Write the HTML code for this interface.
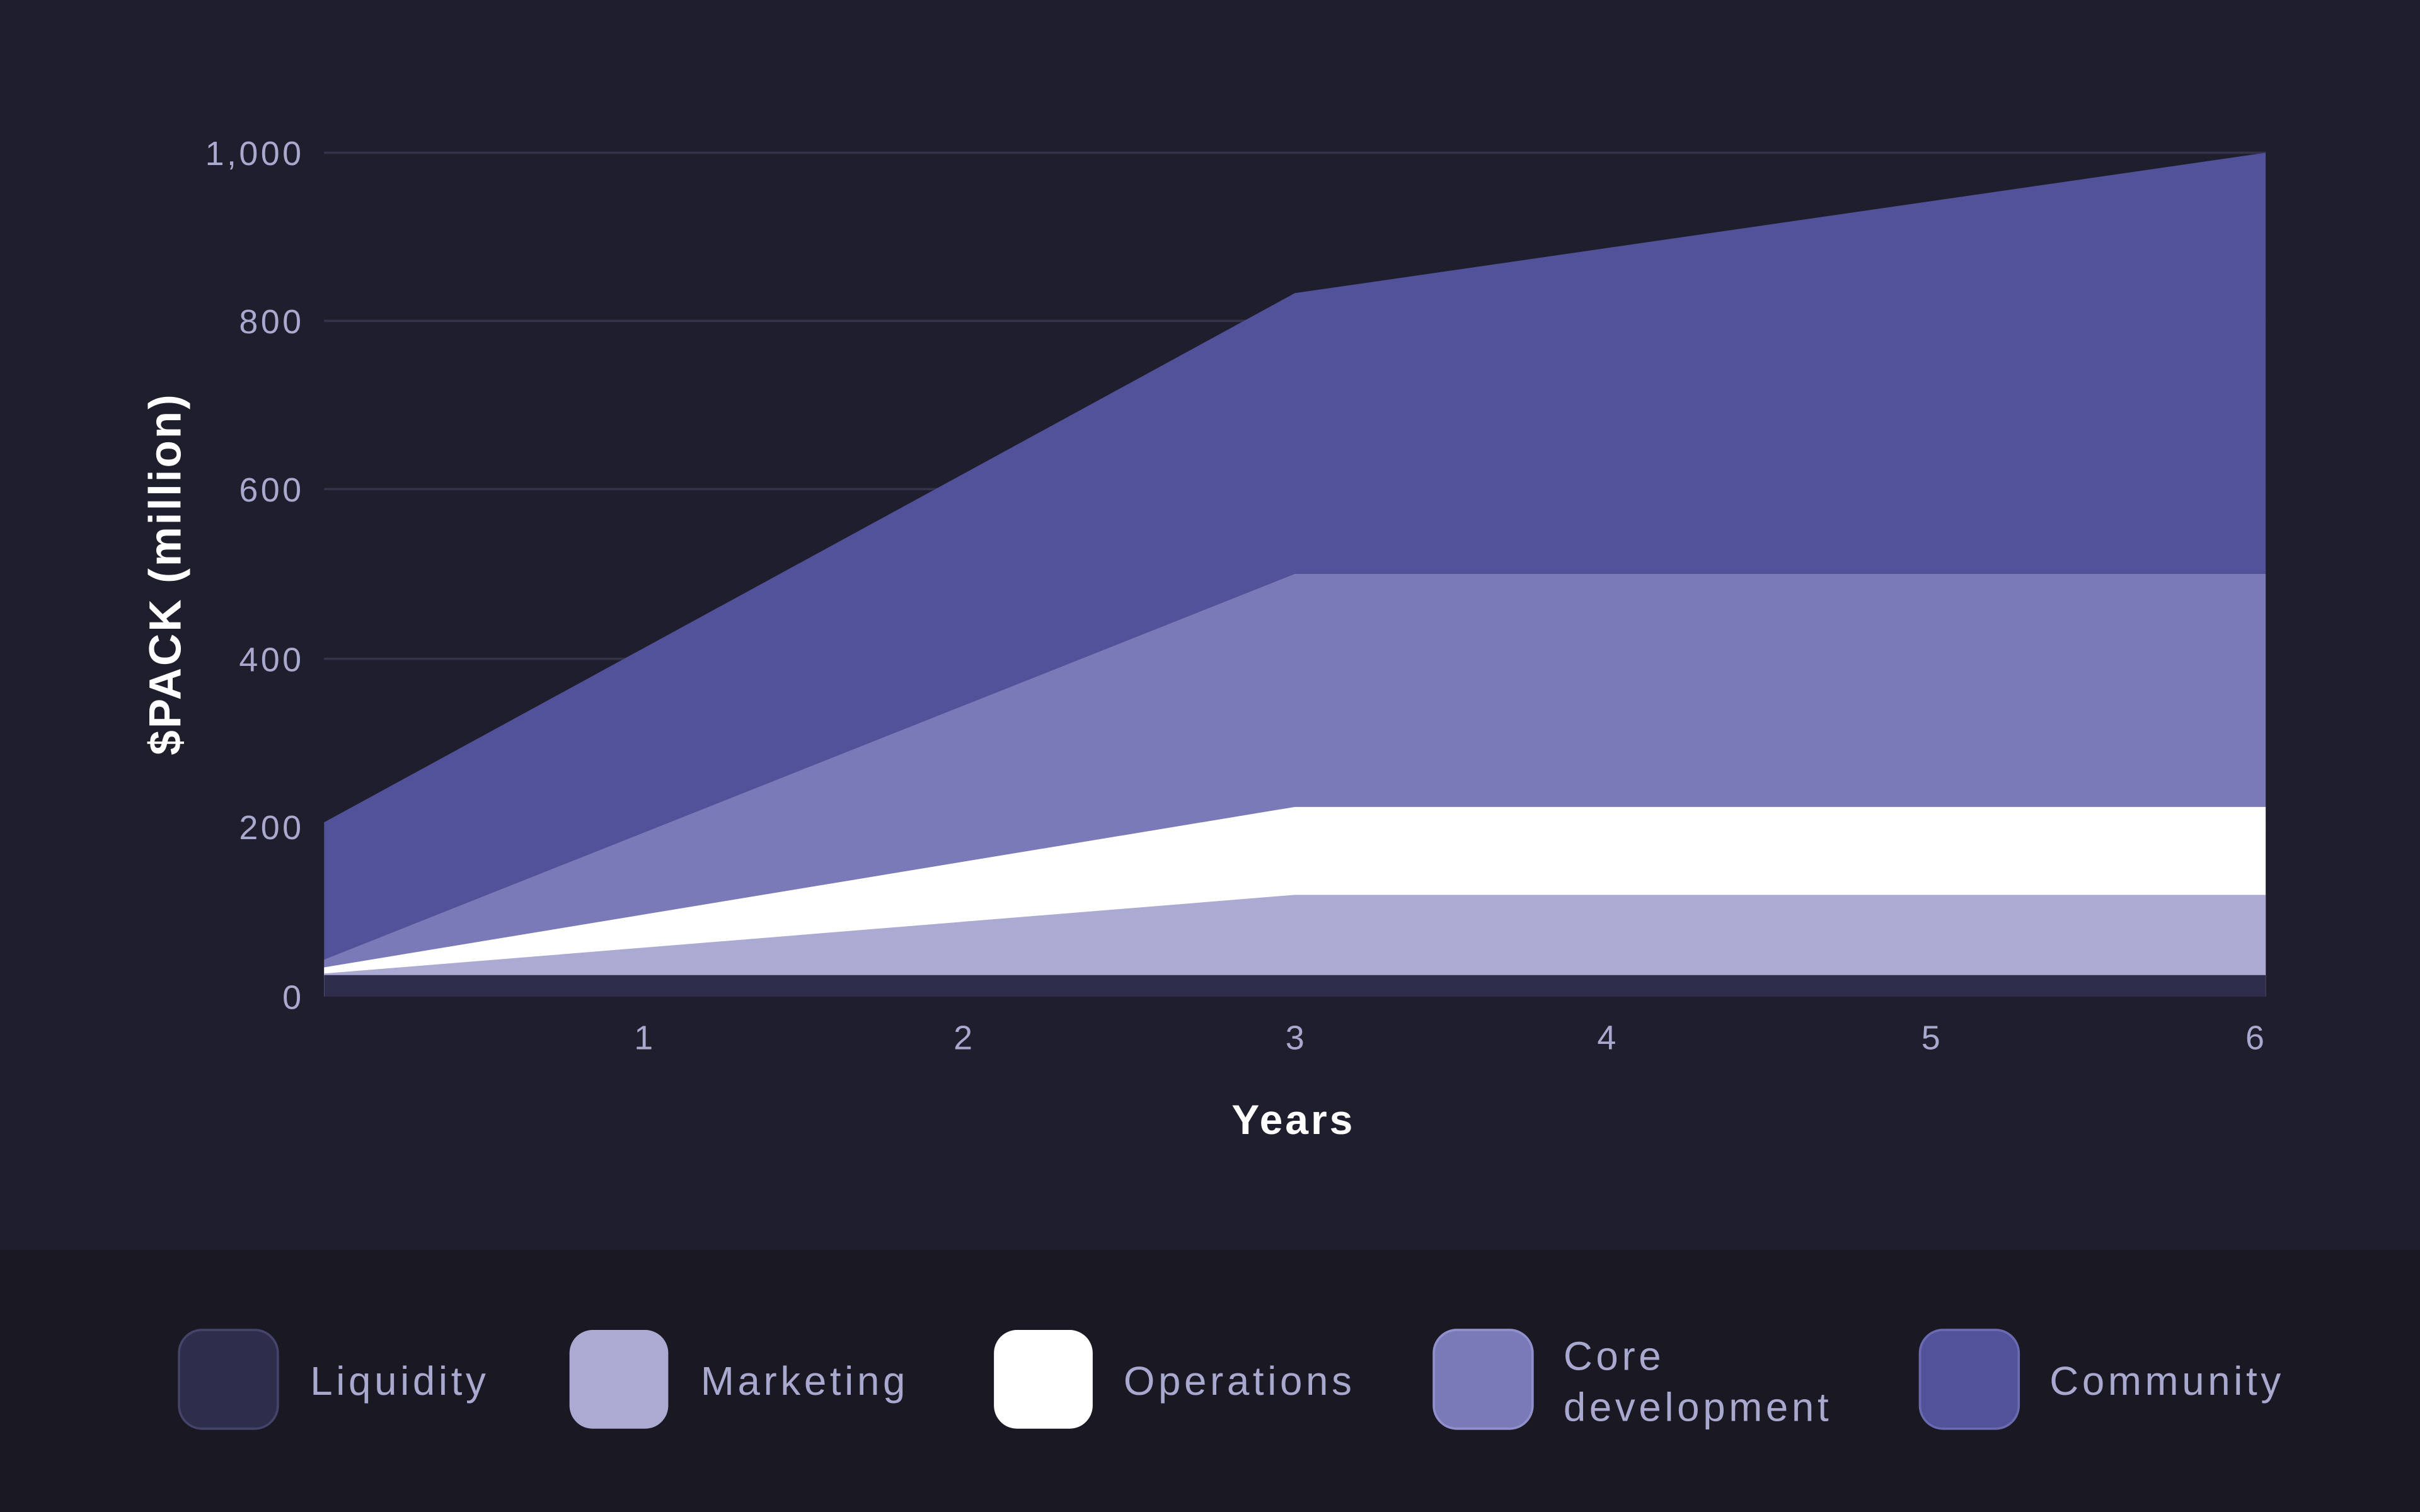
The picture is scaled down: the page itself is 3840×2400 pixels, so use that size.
<!DOCTYPE html>
<html><head><meta charset="utf-8">
<style>
html,body{margin:0;padding:0;background:#1f1e2c;}
svg{display:block;}
text{font-family:"Liberation Sans",sans-serif;}
</style></head>
<body>
<svg width="3840" height="2400" viewBox="0 0 1568 980" xmlns="http://www.w3.org/2000/svg">
<rect x="0" y="0" width="1568" height="810" fill="#1f1e2c"/>
<rect x="0" y="810" width="1568" height="170" fill="#1a1923"/>
<g stroke="#34334a" stroke-width="1.5">
<line x1="210" y1="99" x2="1468" y2="99"/>
<line x1="210" y1="208" x2="1468" y2="208"/>
<line x1="210" y1="317" x2="1468" y2="317"/>
<line x1="210" y1="427" x2="1468" y2="427"/>
<line x1="210" y1="536" x2="1468" y2="536"/>
</g>
<polygon points="210,533 839,190 1468,99 1468,646 210,646" fill="#52529a"/>
<polygon points="210,622 839,372 1468,372 1468,646 210,646" fill="#7b7ab8"/>
<polygon points="210,627 839,523 1468,523 1468,646 210,646" fill="#ffffff"/>
<polygon points="210,631 839,580 1468,580 1468,646 210,646" fill="#aaaad2"/>
<rect x="210" y="632" width="1258" height="14" fill="#2e2e4c"/>
<g fill="#a9a8cf" font-size="22" text-anchor="end" letter-spacing="1.8">
<text x="197" y="107">1,000</text>
<text x="197" y="216">800</text>
<text x="197" y="325">600</text>
<text x="197" y="435">400</text>
<text x="197" y="544">200</text>
<text x="197" y="654">0</text>
</g>
<g fill="#a9a8cf" font-size="22" text-anchor="middle">
<text x="417" y="680">1</text>
<text x="624" y="680">2</text>
<text x="839" y="680">3</text>
<text x="1041" y="680">4</text>
<text x="1251" y="680">5</text>
<text x="1461" y="680">6</text>
</g>
<text x="838" y="735" fill="#fff" font-size="27" font-weight="bold" text-anchor="middle" letter-spacing="1.6">Years</text>
<text transform="translate(117,372) rotate(-90)" fill="#fff" font-size="29" font-weight="bold" text-anchor="middle" letter-spacing="1.2">$PACK (million)</text>
<g stroke-width="1.5">
<rect x="116" y="862" width="64" height="64" rx="15" fill="#2e2e4c" stroke="#44446a"/>
<rect x="369" y="862" width="64" height="64" rx="15" fill="#aaaad2"/>
<rect x="644" y="862" width="64" height="64" rx="15" fill="#ffffff"/>
<rect x="929" y="862" width="64" height="64" rx="15" fill="#7b7ab8" stroke="#9190cc"/>
<rect x="1244" y="862" width="64" height="64" rx="15" fill="#52529a" stroke="#6a6ab0"/>
</g>
<g fill="#a9a8cf" font-size="26" letter-spacing="2.3">
<text x="201" y="904">Liquidity</text>
<text x="454" y="904">Marketing</text>
<text x="728" y="904">Operations</text>
<text x="1013" y="888">Core</text>
<text x="1013" y="921">development</text>
<text x="1328" y="904">Community</text>
</g>
</svg>
</body></html>
